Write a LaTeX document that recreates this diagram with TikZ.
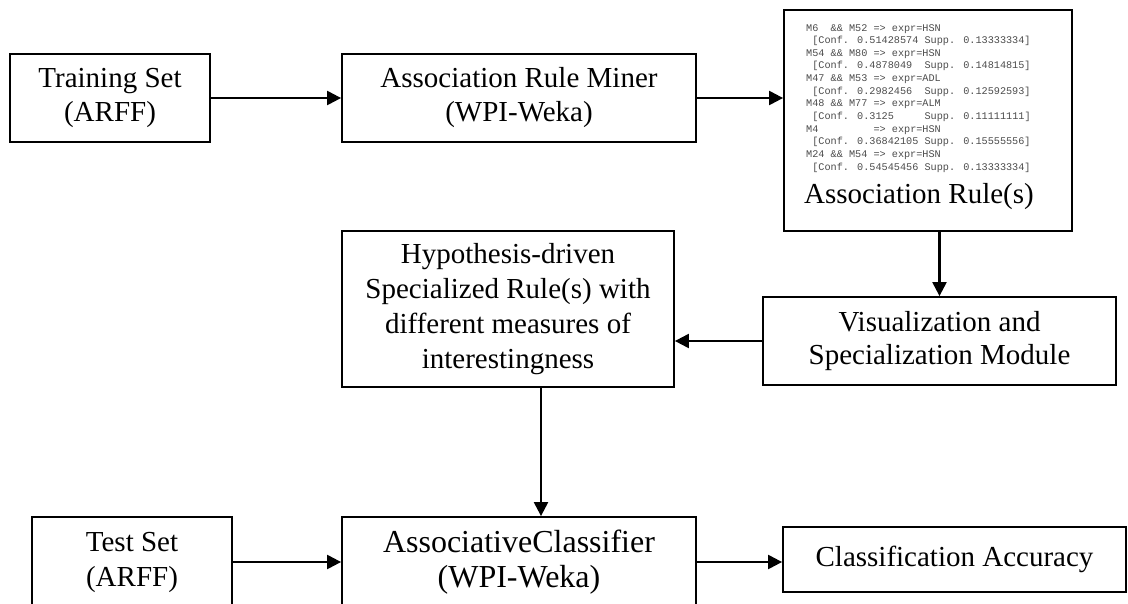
\documentclass[tikz,border=0pt]{standalone}
\usepackage{fontspec}
\setmainfont{Liberation Serif}
\newfontfamily\rulemono{Liberation Mono}
\usetikzlibrary{arrows.meta}
\newlength{\du}
\setlength{\du}{1pt}
\definecolor{dialinecolor}{rgb}{0.000000, 0.000000, 0.000000}
\definecolor{rulegray}{rgb}{0.300000, 0.300000, 0.300000}
\newcommand{\blockfont}[2]{\fontsize{#1}{#2}\selectfont}
\tikzset{
  blockbox/.style={draw=dialinecolor, line width=1.8\du, fill=white, align=center, inner sep=0pt},
  flowarrow/.style={draw=dialinecolor, line width=2.2\du, -{Triangle[length=14pt, width=14pt]}},
}
\begin{document}
\begin{tikzpicture}
\pgftransformxscale{1.000000}
\pgftransformyscale{-1.000000}
\useasboundingbox (0\du,0\du) rectangle (1128\du,603\du);
% top row
\node[blockbox, minimum width=200\du, minimum height=88\du, font=\blockfont{29}{34}] (train) at (110\du,98\du) {Training Set\\(ARFF)};
\node[blockbox, minimum width=354\du, minimum height=88\du, font=\blockfont{29}{34}] (miner) at (519\du,98\du) {Association Rule Miner\\(WPI-Weka)};
\node[blockbox, minimum width=288\du, minimum height=221\du] (rules) at (928\du,120.5\du) {};
\node[anchor=north west, align=left, inner sep=0pt, text=rulegray, font=\rulemono\blockfont{10.2}{12.65}] (rulelist) at (806\du,24\du) {%
M6~~\&\& M52 => expr=HSN\\
~[Conf. 0.51428574 Supp. 0.13333334]\\
M54 \&\& M80 => expr=HSN\\
~[Conf. 0.4878049~~Supp. 0.14814815]\\
M47 \&\& M53 => expr=ADL\\
~[Conf. 0.2982456~~Supp. 0.12592593]\\
M48 \&\& M77 => expr=ALM\\
~[Conf. 0.3125~~~~~Supp. 0.11111111]\\
M4~~~~~~~~~=> expr=HSN\\
~[Conf. 0.36842105 Supp. 0.15555556]\\
M24 \&\& M54 => expr=HSN\\
~[Conf. 0.54545456 Supp. 0.13333334]};
\node[anchor=base, inner sep=0pt, font=\blockfont{29}{33}] (rulename) at (919\du,203\du) {Association Rule(s)};
% middle row
\node[blockbox, minimum width=332\du, minimum height=156\du, font=\blockfont{29}{35}] (hyp) at (508\du,309\du) {Hypothesis-driven\\Specialized Rule(s) with\\different measures of\\interestingness};
\node[blockbox, minimum width=353\du, minimum height=88\du, font=\blockfont{29}{33}] (vis) at (939.5\du,341\du) {Visualization and\\Specialization Module};
% bottom row
\node[blockbox, minimum width=200\du, minimum height=90\du, font=\blockfont{29}{35}] (test) at (132\du,562\du) {Test Set\\(ARFF)};
\node[blockbox, minimum width=354\du, minimum height=90\du, font=\blockfont{32}{35}] (cls) at (519\du,562\du) {AssociativeClassifier\\(WPI-Weka)};
\node[blockbox, minimum width=343\du, minimum height=65\du, font=\blockfont{29}{33}] (acc) at (954.5\du,559.5\du) {Classification Accuracy};
% arrows
\draw[flowarrow] (train.east) -- (miner.west);
\draw[flowarrow] (miner.east) -- (miner.east -| rules.west);
\draw[flowarrow] (vis.north |- rules.south) -- (vis.north);
\draw[flowarrow] (vis.west) -- (vis.west -| hyp.east);
\draw[flowarrow] ([xshift=33\du]hyp.south) -- ([xshift=33\du]hyp.south |- cls.north);
\draw[flowarrow] (test.east) -- (cls.west);
\draw[flowarrow] (cls.east) -- (cls.east -| acc.west);
\end{tikzpicture}
\end{document}
